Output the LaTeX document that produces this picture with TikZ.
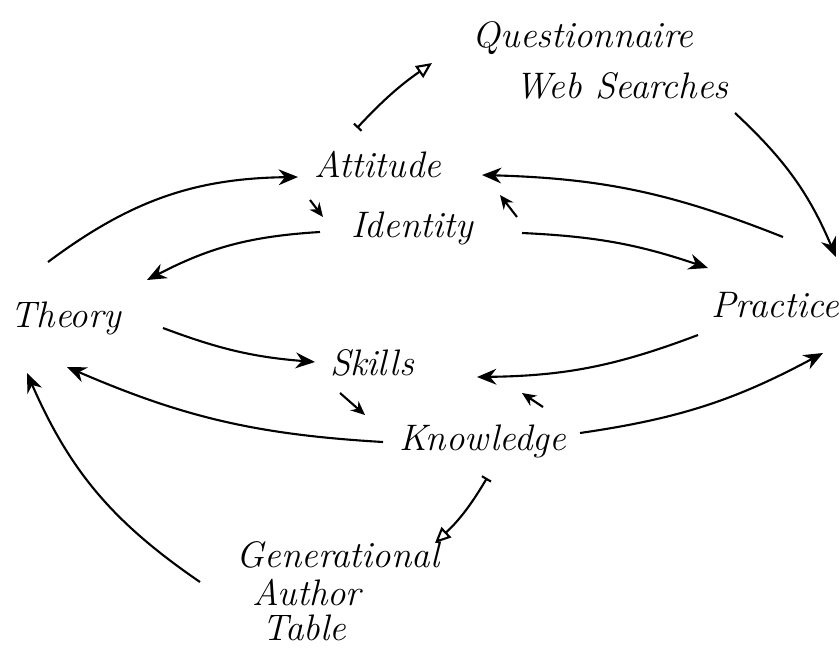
\documentclass[tikz,border=0pt]{standalone}
\usetikzlibrary{arrows.meta}

\begin{document}
\begin{tikzpicture}[x=0.02cm,y=-0.02cm,line width=1.2pt,
  >={Stealth[length=11pt,width=9pt]},
  word/.style={font=\fontsize{21}{25}\selectfont\itshape,anchor=base,inner sep=0pt},
  small/.style={->,>={Stealth[length=8pt,width=7pt]}},
  source/.style={{Bar[width=6pt]}-{Triangle[open,length=9pt,width=8pt]}}]
\useasboundingbox (0,0) rectangle (840,650);
%%First place the nodes
\node[word] (quest) at (583,47) {Questionnaire};
\node[word] (web) at (622,98) {Web Searches};
\node[word] (attitude) at (378,177) {Attitude};
\node[word] (identity) at (412,237) {Identity};
\node[word] (theory) at (66,327) {Theory};
\node[word] (practice) at (775,317) {Practice};
\node[word] (skills) at (372,375) {Skills};
\node[word] (knowledge) at (483,450) {Knowledge};
\node[word] (gen) at (338,567) {Generational};
\node[word] (author) at (307,605) {Author};
\node[word] (table) at (304,640) {Table};
%%Draw the upper loop
\draw[->]
([shift={(-18,-65)}]theory.base) to[bend left=18] ([shift={(-80,0)}]attitude.base);
\draw[->]
([shift={(-92,-5)}]identity.base) to[bend right=12] ([shift={(81,-47)}]theory.base);
\draw[->]
([shift={(110,-4)}]identity.base) to[bend left=8] ([shift={(-67,-49)}]practice.base);
\draw[->]
([shift={(8,-80)}]practice.base) to[bend right=10] ([shift={(104,-2)}]attitude.base);
%%Draw the lower loop
\draw[->]
([shift={(97,1)}]theory.base) to[bend right=8] ([shift={(-57,-13)}]skills.base);
\draw[->]
([shift={(-100,-8)}]knowledge.base) to[bend left=10] ([shift={(1,40)}]theory.base);
\draw[->]
([shift={(-77,18)}]practice.base) to[bend left=10] ([shift={(105,2)}]skills.base);
\draw[->]
([shift={(97,-17)}]knowledge.base) to[bend right=10] ([shift={(48,36)}]practice.base);
%%Draw the small arrows between the pairs
\draw[small] ([shift={(-68,23)}]attitude.base) -- ([shift={(-89,-20)}]identity.base);
\draw[small] ([shift={(105,-20)}]identity.base) -- ([shift={(122,18)}]attitude.base);
\draw[small] ([shift={(-32,18)}]skills.base) -- ([shift={(-118,-35)}]knowledge.base);
\draw[small] ([shift={(60,-43)}]knowledge.base) -- ([shift={(150,18)}]skills.base);
%%Draw the sources
\draw[source]
([shift={(-21,-49)}]attitude.base) to[bend left=6] ([shift={(-151,16)}]quest.base);
\draw[->]
([shift={(113,15)}]web.base) to[bend left=12] ([shift={(61,-60)}]practice.base);
\draw[source]
([shift={(4,28)}]knowledge.base) to[bend left=8] ([shift={(97,-24)}]gen.base);
\draw[->]
([shift={(-107,-23)}]author.base) to[bend left=16] ([shift={(-39,46)}]theory.base);
\end{tikzpicture}
\end{document}
